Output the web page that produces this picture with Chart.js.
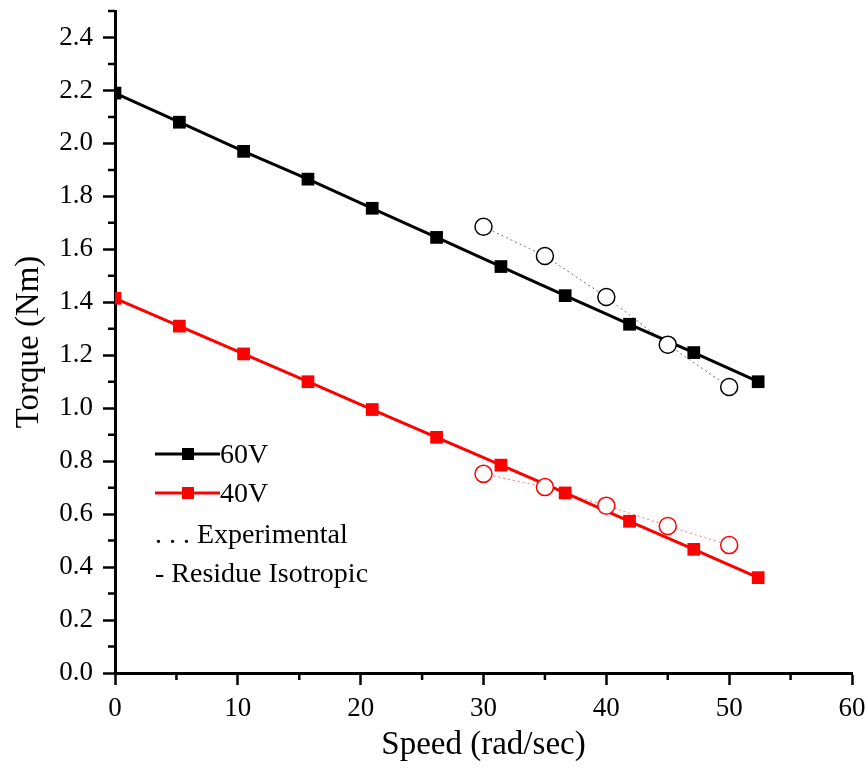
<!DOCTYPE html>
<html>
<head>
<meta charset="utf-8">
<title>Torque vs Speed</title>
<script src="https://cdn.jsdelivr.net/npm/chart.js@4.4.1/dist/chart.umd.min.js"></script>
<style>
  html, body { margin: 0; padding: 0; background: #ffffff; }
  #marco { position: relative; width: 868px; height: 769px; }
</style>
</head>
<body>
<div id="marco"><canvas id="grafico"></canvas></div>
<script>
/* Data */
var speedModel = [0, 5.24, 10.47, 15.71, 20.94, 26.18, 31.42, 36.65, 41.89, 47.12, 52.36];
var torque60 = [2.19, 2.08, 1.97, 1.865, 1.755, 1.645, 1.535, 1.425, 1.317, 1.21, 1.10];
var torque40 = [1.415, 1.31, 1.205, 1.10, 0.995, 0.89, 0.785, 0.68, 0.573, 0.467, 0.36];

var speedExp = [30, 35, 40, 45, 50];
var exp60 = [1.685, 1.575, 1.42, 1.24, 1.08];
var exp40 = [0.752, 0.702, 0.632, 0.555, 0.483];

/* Axis ticks: major (labelled) and minor (short, unlabelled) */
var xMajor = [0, 10, 20, 30, 40, 50, 60];
var xMinor = [5, 15, 25, 35, 45, 55];
var yMajor = [0, 0.2, 0.4, 0.6, 0.8, 1.0, 1.2, 1.4, 1.6, 1.8, 2.0, 2.2, 2.4];
var yMinor = [0.1, 0.3, 0.5, 0.7, 0.9, 1.1, 1.3, 1.5, 1.7, 1.9, 2.1, 2.3, 2.5];

var legendItems = [
  { text: '60V', color: '#000000', marker: true },
  { text: '40V', color: '#ff0000', marker: true },
  { text: '. . . Experimental', color: '#000000', marker: false },
  { text: '- Residue Isotropic', color: '#000000', marker: false }
];

var SERIF = '"Liberation Serif", "Times New Roman", serif';

function pares(xs, ys) {
  var out = [];
  for (var i = 0; i < xs.length; i++) { out.push({ x: xs[i], y: ys[i] }); }
  return out;
}

function fijarTicks(valores) {
  return function (scale) {
    scale.ticks = valores.map(function (v) { return { value: v }; });
  };
}

/* Minor ticks + legend drawn on the canvas */
var extras = {
  id: 'extras',
  afterDraw: function (chart) {
    var ctx = chart.ctx;
    var a = chart.chartArea;
    var sx = chart.scales.x;
    var sy = chart.scales.y;
    var i, p;

    ctx.save();
    ctx.strokeStyle = '#000000';
    ctx.lineWidth = 2.5;
    ctx.beginPath();
    for (i = 0; i < xMinor.length; i++) {
      p = sx.getPixelForValue(xMinor[i]);
      ctx.moveTo(p, a.bottom);
      ctx.lineTo(p, a.bottom + 7);
    }
    for (i = 0; i < yMinor.length; i++) {
      p = sy.getPixelForValue(yMinor[i]);
      ctx.moveTo(a.left, p);
      ctx.lineTo(a.left - 7, p);
    }
    ctx.stroke();

    /* legend */
    var baselines = [463, 502, 543, 582];
    ctx.font = '28px ' + SERIF;
    ctx.textBaseline = 'alphabetic';
    ctx.textAlign = 'left';
    for (i = 0; i < legendItems.length; i++) {
      var it = legendItems[i];
      if (it.marker) {
        var ly = baselines[i] - 9;
        ctx.strokeStyle = it.color;
        ctx.lineWidth = 3;
        ctx.beginPath();
        ctx.moveTo(155, ly);
        ctx.lineTo(220, ly);
        ctx.stroke();
        ctx.fillStyle = it.color;
        ctx.fillRect(182, ly - 6, 12, 12);
        ctx.fillStyle = '#000000';
        ctx.fillText(it.text, 220, baselines[i]);
      } else {
        ctx.fillStyle = it.color;
        ctx.fillText(it.text, 155, baselines[i]);
      }
    }
    ctx.restore();
  }
};

function ejeComun(titulo, tituloPadding) {
  return {
    type: 'linear',
    border: { display: true, color: '#000000', width: 3 },
    grid: {
      drawOnChartArea: false,
      drawTicks: true,
      tickLength: 12,
      tickWidth: 2.5,
      tickColor: '#000000'
    },
    ticks: {
      color: '#000000',
      font: { family: SERIF, size: 27 },
      padding: 8,
      autoSkip: false,
      maxRotation: 0
    },
    title: {
      display: true,
      text: titulo,
      color: '#000000',
      font: { family: SERIF, size: 33 },
      padding: tituloPadding
    }
  };
}

var ejeX = ejeComun('Speed (rad/sec)', { top: 0, bottom: 4 });
ejeX.min = 0;
ejeX.max = 60;
ejeX.afterBuildTicks = fijarTicks(xMajor);
ejeX.afterFit = function (scale) {
  scale.height = 96;
  scale.paddingLeft = 0;
  scale.paddingRight = 0;
};
ejeX.ticks.callback = function (v) { return String(v); };

var ejeY = ejeComun('Torque (Nm)', { top: 10, bottom: 0 });
ejeY.min = 0;
ejeY.max = 2.5;
ejeY.afterBuildTicks = fijarTicks(yMajor);
ejeY.afterFit = function (scale) {
  scale.width = 115;
  scale.paddingTop = 0;
  scale.paddingBottom = 0;
};
ejeY.ticks.callback = function (v) { return Number(v).toFixed(1); };
ejeY.ticks.padding = 10;

new Chart(document.getElementById('grafico'), {
  type: 'scatter',
  data: {
    datasets: [
      {
        label: 'Experimental 60V',
        data: pares(speedExp, exp60),
        showLine: true,
        borderColor: 'rgba(0,0,0,0.55)',
        borderWidth: 1,
        borderDash: [2, 3],
        pointStyle: 'circle',
        pointRadius: 8.5,
        pointBorderWidth: 1.5,
        pointBorderColor: '#000000',
        pointBackgroundColor: '#ffffff'
      },
      {
        label: 'Experimental 40V',
        data: pares(speedExp, exp40),
        showLine: true,
        borderColor: 'rgba(255,0,0,0.55)',
        borderWidth: 1,
        borderDash: [2, 3],
        pointStyle: 'circle',
        pointRadius: 8.5,
        pointBorderWidth: 1.5,
        pointBorderColor: '#ff0000',
        pointBackgroundColor: '#ffffff'
      },
      {
        label: '60V',
        data: pares(speedModel, torque60),
        showLine: true,
        clip: 0,
        borderColor: '#000000',
        borderWidth: 3,
        pointStyle: 'rect',
        pointRadius: 9,
        pointBorderWidth: 0,
        pointBackgroundColor: '#000000'
      },
      {
        label: '40V',
        data: pares(speedModel, torque40),
        showLine: true,
        clip: 0,
        borderColor: '#ff0000',
        borderWidth: 3,
        pointStyle: 'rect',
        pointRadius: 9,
        pointBorderWidth: 0,
        pointBackgroundColor: '#ff0000'
      }
    ]
  },
  options: {
    responsive: true,
    maintainAspectRatio: false,
    animation: false,
    layout: { padding: { left: 0, top: 11, right: 16, bottom: 0 } },
    plugins: {
      legend: { display: false },
      tooltip: { enabled: false }
    },
    scales: { x: ejeX, y: ejeY }
  },
  plugins: [extras]
});
</script>
</body>
</html>
